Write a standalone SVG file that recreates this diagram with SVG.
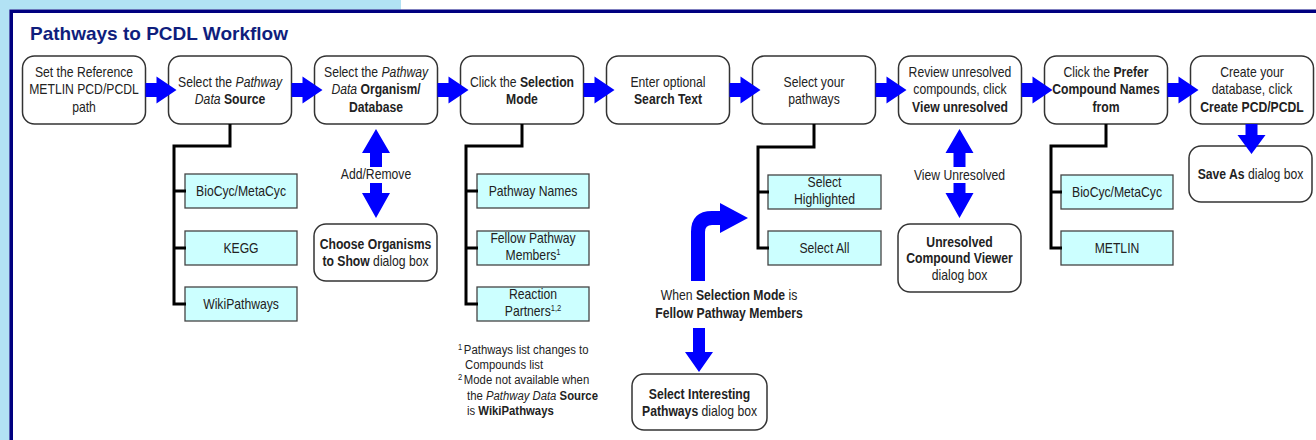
<svg xmlns="http://www.w3.org/2000/svg" width="1316" height="440" viewBox="0 0 1316 440">
<style>
.bg{fill:#ffffff}
.t{font-family:"Liberation Sans Narrow","Liberation Sans",Arial,sans-serif;font-size:14.5px;fill:#222;text-anchor:middle;transform-box:fill-box;transform-origin:50% 50%;transform:scaleX(0.84)}
.fn{font-family:"Liberation Sans Narrow","Liberation Sans",Arial,sans-serif;font-size:13.5px;fill:#222;transform-box:fill-box;transform-origin:0 50%;transform:scaleX(0.84)}
.b{font-weight:bold}
.i{font-style:italic}
.sup{font-size:9px}
.box{fill:#fff;stroke:#333;stroke-width:1.5}
.cy{fill:#ccffff;stroke:#444;stroke-width:1.3}
.ln{fill:none;stroke:#000;stroke-width:3}
.ar{fill:#0000ff}
</style>
<defs>
<path id="harr" d="M0,-7 H11 V-13.5 L31,0 L11,13.5 V7 H0 Z"/>
</defs>
<rect class="bg" x="0" y="0" width="1316" height="440"/>
<rect x="0" y="0" width="401" height="9.5" fill="#b2e2f4"/>
<rect x="0" y="0" width="9.5" height="440" fill="#b2e2f4"/>
<path d="M11.2,440 V11.2 H1316" fill="none" stroke="#000080" stroke-width="3.6"/>
<text x="30" y="40" font-family="'Liberation Sans',Arial,sans-serif" font-size="19" font-weight="bold" fill="#0f1e7d">Pathways to PCDL Workflow</text>

<g id="nodes">
<g id="n1"><rect class="box" x="22.5" y="56" width="123" height="68" rx="12"/>
<text class="t" x="84" y="77">Set the Reference</text><text class="t" x="84" y="94.5">METLIN PCD/PCDL</text><text class="t" x="84" y="112">path</text></g>
<g id="n2"><rect class="box" x="168.5" y="56" width="123" height="68" rx="12"/>
<text class="t" x="230" y="87">Select the <tspan class="i">Pathway</tspan></text><text class="t" x="230" y="104"><tspan class="i">Data</tspan> <tspan class="b">Source</tspan></text></g>
<g id="n3"><rect class="box" x="314.5" y="56" width="123" height="68" rx="12"/>
<text class="t" x="376" y="77">Select the <tspan class="i">Pathway</tspan></text><text class="t" x="376" y="94.5"><tspan class="i">Data</tspan> <tspan class="b">Organism/</tspan></text><text class="t b" x="376" y="112">Database</text></g>
<g id="n4"><rect class="box" x="460.5" y="56" width="123" height="68" rx="12"/>
<text class="t" x="522" y="87">Click the <tspan class="b">Selection</tspan></text><text class="t b" x="522" y="104">Mode</text></g>
<g id="n5"><rect class="box" x="606.5" y="56" width="123" height="68" rx="12"/>
<text class="t" x="668" y="87">Enter optional</text><text class="t b" x="668" y="104">Search Text</text></g>
<g id="n6"><rect class="box" x="752.5" y="56" width="123" height="68" rx="12"/>
<text class="t" x="814" y="87">Select your</text><text class="t" x="814" y="104">pathways</text></g>
<g id="n7"><rect class="box" x="898.5" y="56" width="123" height="68" rx="12"/>
<text class="t" x="960" y="77">Review unresolved</text><text class="t" x="960" y="94.5">compounds, click</text><text class="t b" x="960" y="112">View unresolved</text></g>
<g id="n8"><rect class="box" x="1044.5" y="56" width="123" height="68" rx="12"/>
<text class="t" x="1106" y="77">Click the <tspan class="b">Prefer</tspan></text><text class="t b" x="1106" y="94.5">Compound Names</text><text class="t b" x="1106" y="112">from</text></g>
<g id="n9"><rect class="box" x="1190.5" y="56" width="123" height="68" rx="12"/>
<text class="t" x="1252" y="77">Create your</text><text class="t" x="1252" y="94.5">database, click</text><text class="t b" x="1252" y="112">Create PCD/PCDL</text></g>

<g id="saveas"><rect class="box" x="1189" y="146" width="123" height="56" rx="12"/>
<text class="t" x="1250.5" y="179"><tspan class="b">Save As</tspan> dialog box</text></g>

<g id="src-biocyc"><rect class="cy" x="185" y="174" width="112" height="34"/><text class="t" x="241" y="196">BioCyc/MetaCyc</text></g>
<g id="src-kegg"><rect class="cy" x="185" y="231" width="112" height="34"/><text class="t" x="241" y="253">KEGG</text></g>
<g id="src-wiki"><rect class="cy" x="185" y="287" width="112" height="34"/><text class="t" x="241" y="309">WikiPathways</text></g>

<g id="choose-org"><rect class="box" x="314" y="224" width="123" height="57" rx="12"/>
<text class="t" x="375.5" y="249"><tspan class="b">Choose Organisms</tspan></text><text class="t" x="375.5" y="266"><tspan class="b">to Show</tspan> dialog box</text></g>

<g id="mode-names"><rect class="cy" x="477" y="174" width="112" height="34"/><text class="t" x="533" y="196">Pathway Names</text></g>
<g id="mode-fellow"><rect class="cy" x="477" y="231" width="112" height="34"/><text class="t" x="533" y="243">Fellow Pathway</text><text class="t" x="533" y="260">Members<tspan class="sup" dy="-5">1</tspan></text></g>
<g id="mode-reaction"><rect class="cy" x="477" y="287" width="112" height="34"/><text class="t" x="533" y="299">Reaction</text><text class="t" x="533" y="316">Partners<tspan class="sup" dy="-5">1,2</tspan></text></g>

<g id="footnotes">
<text class="fn" x="458" y="354"><tspan class="sup" dy="-4">1</tspan><tspan x="465" dy="4">Pathways list changes to</tspan></text>
<text class="fn" x="465" y="369">Compounds list</text>
<text class="fn" x="458" y="384"><tspan class="sup" dy="-4">2</tspan><tspan x="465" dy="4">Mode not available when</tspan></text>
<text class="fn" x="467" y="400">the <tspan class="i">Pathway Data</tspan> <tspan class="b">Source</tspan></text>
<text class="fn" x="467" y="415">is <tspan class="b">WikiPathways</tspan></text>
</g>

<g id="sel-high"><rect class="cy" x="768" y="175" width="113" height="34"/><text class="t" x="824.5" y="187.5">Select</text><text class="t" x="824.5" y="204">Highlighted</text></g>
<g id="sel-all"><rect class="cy" x="768" y="231" width="113" height="34"/><text class="t" x="824.5" y="253">Select All</text></g>

<g id="when-label"><text class="t" x="729" y="300">When <tspan class="b">Selection Mode</tspan> is</text><text class="t b" x="729" y="318">Fellow Pathway Members</text></g>

<g id="sel-interesting"><rect class="box" x="632" y="374" width="135" height="56" rx="12"/>
<text class="t" x="699.5" y="399"><tspan class="b">Select Interesting</tspan></text><text class="t" x="699.5" y="416"><tspan class="b">Pathways</tspan> dialog box</text></g>

<g id="unresolved-viewer"><rect class="box" x="898" y="224" width="123" height="68" rx="12"/>
<text class="t b" x="959.5" y="247">Unresolved</text><text class="t b" x="959.5" y="263.5">Compound Viewer</text><text class="t" x="959.5" y="280">dialog box</text></g>

<g id="pref-biocyc"><rect class="cy" x="1061" y="175" width="112" height="34"/><text class="t" x="1117" y="197">BioCyc/MetaCyc</text></g>
<g id="pref-metlin"><rect class="cy" x="1061" y="231" width="112" height="34"/><text class="t" x="1117" y="253">METLIN</text></g>
</g>

<g id="connectors">
<path class="ln" d="M230,124 V146 H174 V304 H186 M174,191 H186 M174,248 H186"/>
<path class="ln" d="M522,124 V146 H466 V304 H478 M466,191 H478 M466,248 H478"/>
<path class="ln" d="M814,124 V147 H758 V248 H769 M758,192 H769"/>
<path class="ln" d="M1106,124 V146 H1051 V248 H1062 M1051,192 H1062"/>

<use class="ar" href="#harr" x="145.5" y="90"/>
<use class="ar" href="#harr" x="291.5" y="90"/>
<use class="ar" href="#harr" x="437.5" y="90"/>
<use class="ar" href="#harr" x="583.5" y="90"/>
<use class="ar" href="#harr" x="729.5" y="90"/>
<use class="ar" href="#harr" x="875.5" y="90"/>
<use class="ar" href="#harr" x="1021.5" y="90"/>
<use class="ar" href="#harr" x="1167.5" y="90"/>

<path class="ar" d="M1245.5,124 H1257.5 V135 H1265.5 L1251.5,154 L1237.5,135 H1245.5 Z"/>

<path class="ar" d="M376,129 L390,153 H382 V167 H370 V153 H362 Z"/>
<text class="t" x="376" y="179">Add/Remove</text>
<path class="ar" d="M370,183 H382 V193 H390 L376,218 L362,193 H370 Z"/>

<path class="ar" d="M959.5,129 L973.5,153 H965.5 V167 H953.5 V153 H945.5 Z"/>
<text class="t" x="959.5" y="180">View Unresolved</text>
<path class="ar" d="M953.5,183 H965.5 V193 H973.5 L959.5,218 L945.5,193 H953.5 Z"/>

<path class="ar" d="M691,281 V232 Q691,211 712,211 H720 V203 L748,218 L720,233 V225 H712 Q705,225 705,232 V281 Z"/>

<path class="ar" d="M693,328 H705 V352 H713 L699,372 L685,352 H693 Z"/>
</g>
</svg>
